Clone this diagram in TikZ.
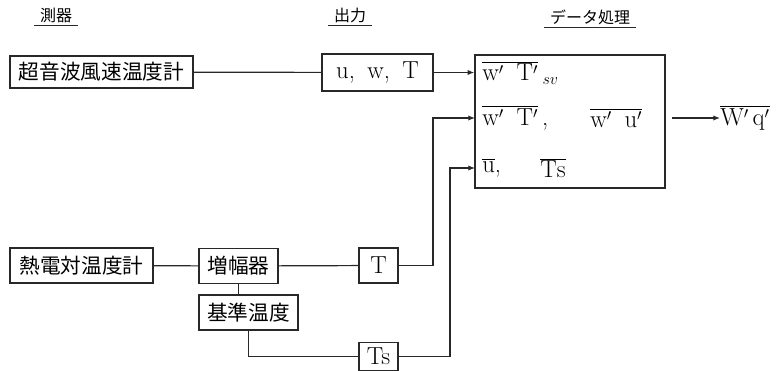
\documentclass[tikz,border=0pt]{standalone}
\usepackage{fontspec}
\usepackage{tikz}
\usetikzlibrary{positioning, arrows.meta, calc}
\newfontfamily\jp{Noto Sans CJK JP}
\definecolor{InkGray}{RGB}{40,40,40}

\begin{document}
\begin{tikzpicture}[
          x=0.75pt, y=-0.75pt,
          bx/.style={draw=InkGray, line width=1.1pt, inner sep=0pt,
                     font=\fontsize{15.5}{17}\selectfont\jp},
          tx/.style={inner sep=0pt, font=\fontsize{18.5}{20}\selectfont},
          hd/.style={inner sep=1pt, font=\fontsize{12}{14}\selectfont\jp},
          ln/.style={InkGray, line width=0.9pt},
          ar/.style={ln, -{Latex[length=5pt, width=4pt]}}
        ]
        \useasboundingbox (0,0) rectangle (778,371);

        % column headings
        \node[hd] (hdA) at (56,15) {測器};
        \node[hd] (hdB) at (350,15) {出力};
        \node[hd] (hdC) at (590,17) {データ処理};
        \foreach \h in {hdA, hdB, hdC} {
          \draw[ln] ([xshift=-3pt,yshift=-1pt]\h.south west)
                 -- ([xshift=3pt,yshift=-1pt]\h.south east);
        }

        % sonic anemometer line
        \node[bx, minimum width=183*0.75pt, minimum height=32*0.75pt]
              (sonic) at (101.5,72) {超音波風速温度計};
        \node[bx, tx, minimum width=111*0.75pt, minimum height=37*0.75pt]
              (uwt) at (377.5,72.5) {u,\enspace w,\enspace T};
        \draw[ln] (sonic) -- (uwt);

        % processing box
        \node[bx, minimum width=190*0.75pt, minimum height=133*0.75pt]
              (proc) at (570,121.5) {};
        \node[tx, anchor=west] (rowA) at (482,73)
              {$\overline{\mathrm{w}'\;\;\mathrm{T}'}_{\;sv}$};
        \node[tx, anchor=west] (rowB) at (482,118)
              {$\overline{\mathrm{w}'\;\;\mathrm{T}'}\,$,};
        \node[tx, anchor=west] (rowC) at (590,118)
              {$\overline{\mathrm{w}'\;\;\mathrm{u}'}$};
        \node[tx, anchor=west] (rowD) at (482,168)
              {$\overline{\mathrm{u}}$,};
        \node[tx, anchor=west] (rowE) at (540,168)
              {$\overline{\mathrm{Ts}}$};
        \draw[ar] (uwt) -- (uwt -| proc.west);

        % output
        \node[tx, anchor=west] (outq) at (720,118)
              {$\overline{\mathrm{W}'\,\mathrm{q}'}$};
        \draw[ar, shorten <=5pt] (proc.east |- outq) -- (outq.west);

        % thermocouple line
        \node[bx, minimum width=143*0.75pt, minimum height=35*0.75pt]
              (thermo) at (81.5,265.5) {熱電対温度計};
        \node[bx, minimum width=79*0.75pt, minimum height=35*0.75pt]
              (amp) at (238.5,266) {増幅器};
        \node[bx, minimum width=99*0.75pt, minimum height=35*0.75pt]
              (ref) at (248.5,312.5) {基準温度};
        \node[bx, tx, minimum width=39*0.75pt, minimum height=35*0.75pt]
              (tbox) at (378.5,265.5) {T};
        \node[bx, tx, minimum width=39*0.75pt, minimum height=28*0.75pt]
              (tsbox) at (378.5,356.5) {Ts};
        \coordinate (inB) at (475,118);
        \coordinate (inC) at (475,168);
        \coordinate (jB) at (433,118);
        \coordinate (jC) at (450,168);

        \draw[ln] (thermo) -- (amp);
        \draw[ln] (amp) -- (tbox);
        \draw[ln] (amp.south) -- (amp.south |- ref.north);
        \draw[ln] (ref.south) |- (tsbox.west);
        \draw[ar] (tbox.east) -| (jB) -- (inB);
        \draw[ar] (tsbox.east) -| (jC) -- (inC);
      \end{tikzpicture}
\end{document}
